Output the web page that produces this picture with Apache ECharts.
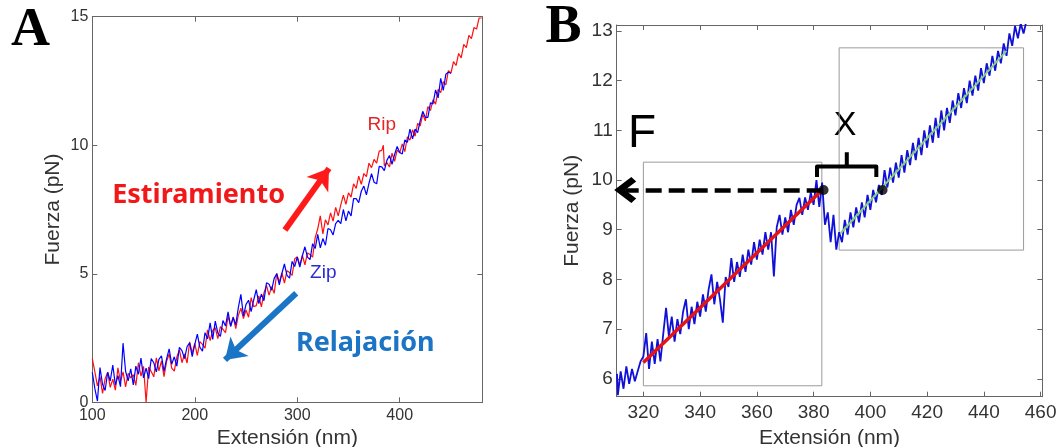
<!DOCTYPE html>
<html><head><meta charset="utf-8">
<script src="https://cdn.jsdelivr.net/npm/echarts@6/dist/echarts.min.js"></script>
<style>html,body{margin:0;padding:0;background:#fff}#c{width:1060px;height:447px}</style>
</head><body><div id="c"></div>
<script>
// ---------- Panel A data ----------
const aXTicks = [100, 200, 300, 400];
const aYTicks = [0, 5, 10, 15];
const aStretch = [ // red, Estiramiento
[100,1.7],[102.5,1.18],[105,0.64],[107.5,1.0],[110,0.35],[112.5,0.91],[115,1.17],[117.5,0.58],[120,0.9],[122.5,0.47],
[125,1.34],[127.5,0.81],[130,1.18],[132.5,0.6],[135,1.13],[137.5,0.95],[140,1.08],[142.5,0.66],[145,1.54],[147.5,1.02],
[150,1.4],[152.5,0.0],[155,1.37],[157.5,1.2],[160,0.99],[162.5,1.73],[165,1.22],[167.5,1.61],[170,1.0],[172.5,1.59],
[175,1.88],[177.5,1.33],[180,1.21],[182.5,1.76],[185,2.04],[187.5,1.54],[190,1.88],[192.5,1.53],[195,2.35],[197.5,1.91],
[200,2.29],[202.5,1.82],[205,2.36],[207.5,2.25],[210,2.11],[212.5,2.82],[215,2.4],[217.5,2.8],[220,2.9],[222.5,2.48],
[225,2.94],[227.5,2.84],[230,2.71],[232.5,3.34],[235,2.97],[237.5,3.32],[240,2.87],[242.5,3.38],[245,3.66],[247.5,3.26],
[250,3.59],[252.5,3.31],[255,4.07],[257.5,3.72],[260,3.76],[262.5,4.14],[265,3.71],[267.5,4.25],[270,4.55],[272.5,4.17],
[275,4.5],[277.5,4.24],[280,5.02],[282.5,4.67],[285,5.03],[287.5,4.64],[290,5.12],[292.5,5.05],[295,4.94],[297.5,5.58],
[300,5.66],[302.5,5.34],[305,5.71],[307.5,5.35],[310,5.81],[312.5,5.75],[315,5.65],[317.5,6.4],[320,6.75],[322.5,7.25],
[325,6.55],[327.5,7.1],[330,6.9],[332.5,7.37],[335,7.05],[337.5,7.58],[340,7.25],[342.5,7.68],[345,8.06],[347.5,7.7],
[350,8.15],[352.5,7.98],[355,8.5],[357.5,8.32],[360,8.8],[362.5,8.48],[365,8.9],[367.5,8.78],[370,9.3],[372.5,9.13],
[375,9.45],[377.5,9.3],[380,9.77],[382.5,9.8],[384,10.0],[385,9.2],[387.5,9.33],[390,9.15],[392.5,9.69],[395,9.37],
[397.5,9.81],[400,9.7],[402.5,10.05],[405,9.75],[407.5,10.33],[410,10.2],[412.5,10.6],[415,10.35],[417.5,10.85],[420,10.75],
[422.5,11.2],[425,10.95],[427.5,11.5],[430,11.35],[432.5,11.77],[435,11.6],[437.5,12.17],[440,12.05],[442.5,12.47],[445,12.35],
[447.5,12.9],[450,12.8],[452.5,13.25],[455,13.1],[457.5,13.57],[460,13.4],[462.5,13.92],[465,13.8],[467.5,14.27],[470,14.15],
[472.5,14.58],[475,14.52],[477.5,14.95],[480,14.95]
];
const aRelax = [ // blue, Relajación
[100,1.17],[102.5,0.53],[105,0.05],[107.5,1.35],[110,0.7],[112.5,0.46],[115,1.17],[117.5,0.83],[120,1.45],[122.5,0.67],
[125,1.04],[127.5,0.61],[130,2.3],[132.5,1.2],[135,0.83],[137.5,1.3],[140,0.68],[142.5,1.41],[145,1.09],[147.5,1.72],
[150,0.95],[152.5,1.33],[155,0.92],[157.5,1.7],[160,1.54],[162.5,1.18],[165,1.67],[167.5,1.81],[170,1.2],[172.5,1.69],
[175,2.08],[177.5,1.48],[180,1.77],[182.5,1.41],[185,2.14],[187.5,2.01],[190,1.7],[192.5,2.17],[195,2.31],[197.5,1.78],
[200,2.25],[202.5,2.65],[205,2.14],[207.5,1.99],[210,2.71],[212.5,2.47],[215,3.09],[217.5,2.45],[220,3.16],[222.5,2.7],
[225,2.56],[227.5,3.18],[230,2.97],[232.5,3.52],[235,2.95],[237.5,3.3],[240,3.01],[242.5,3.68],[245,4.2],[247.5,3.36],
[250,3.81],[252.5,3.97],[255,3.53],[257.5,3.98],[260,4.38],[262.5,3.84],[265,4.21],[267.5,3.95],[270,4.65],[272.5,4.59],
[275,4.36],[277.5,4.82],[280,5.0],[282.5,4.57],[285,5.01],[287.5,5.38],[290,4.94],[292.5,4.83],[295,5.48],[297.5,5.28],
[300,5.65],[302.5,5.26],[305,5.7],[307.5,6.05],[310,5.65],[312.5,5.55],[315,6.17],[317.5,5.98],[320,6.53],[322.5,6.01],
[325,6.37],[327.5,6.11],[330,6.76],[332.5,6.71],[335,6.51],[337.5,6.95],[340,7.08],[342.5,6.95],[345,7.5],[347.5,7.06],
[350,7.44],[352.5,7.25],[355,7.92],[357.5,7.92],[360,7.77],[362.5,8.21],[365,8.41],[367.5,8.07],[370,8.52],[372.5,8.89],
[375,8.56],[377.5,8.5],[380,9.18],[382.5,9.16],[385,9.01],[387.5,9.41],[390,9.6],[392.5,9.26],[395,9.64],[397.5,9.95],
[400,9.72],[402.5,9.66],[405,10.21],[407.5,10.11],[410,10.63],[412.5,10.25],[415,10.63],[417.5,10.49],[420,10.96],[422.5,11.32],
[425,11.08],[427.5,11.08],[430,11.65],[432.5,11.61],[435,12.15],[437.5,11.84],[440,12.6],[442.5,12.13],[445,12.76],[447.5,12.84],
[450,12.8]
];
// arrows in panel A: [start, end] in data units
const aStretchArrow = [[288, 6.7], [331, 9.1]];
const aRelaxArrow = [[299, 4.24], [229.5, 1.65]];

// ---------- Panel B data ----------
const bXTicks = [320, 340, 360, 380, 400, 420, 440, 460];
const bYTicks = [6, 7, 8, 9, 10, 11, 12, 13];
const bTrace = [
[310.7,6.1],[311,5.67],[312,6.15],[313,5.8],[314,6.25],[315,5.9],[316,6.2],[317,5.95],[318,6.15],[319,6.35],
[320,6.45],[321,6.92],[322,6.2],[323,6.75],[324,6.3],[325,6.8],[326,6.35],[327,6.9],[328,7.43],[329,6.85],
[330,7.25],[331,6.75],[332,7.2],[333,6.9],[334,7.35],[335,7.6],[336,7.0],[337,7.45],[338,7.1],[339,7.55],
[340,7.25],[341,7.7],[342,7.35],[343,7.8],[344,8.1],[345,7.5],[346,7.95],[347,7.6],[348,7.13],[349,8.05],
[350,7.85],[351,8.43],[352,7.95],[353,8.35],[354,8.05],[355,8.5],[356,8.15],[357,8.6],[358,8.3],[359,8.75],
[360,8.4],[361,8.8],[362,8.5],[363,8.95],[364,8.6],[365,8.95],[366,8.06],[367,9.05],[368,9.3],[369,8.9],
[370,9.25],[371,8.95],[372,9.4],[373,9.1],[374,9.5],[375,9.64],[376,9.3],[377,9.65],[378,9.4],[379,9.75],
[380,9.5],[381,10.0],[382,9.46],[383,9.95],[384,9.1],[385,9.35],[386,8.75],[387,9.3],[388,8.6],[389,8.95],
[390,8.75],[391,9.2],[392,8.9],[393,9.35],[394,9.05],[395,9.45],[396,9.15],[397,9.55],[398,9.25],[399,9.7],
[400,9.4],[401,9.8],[402,9.55],[403,9.9],[404,9.7],[405,10.2],[406,9.85],[407,10.25],[408,9.95],[409,10.35],
[410,10.05],[411,10.5],[412,10.15],[413,10.6],[414,10.3],[415,10.75],[416,10.4],[417,10.85],[418,10.5],[419,11.0],
[420,10.65],[421,11.1],[422,10.75],[423,11.25],[424,10.85],[425,11.4],[426,11.0],[427,11.45],[428,11.15],[429,11.6],
[430,11.3],[431,11.75],[432,11.45],[433,11.85],[434,11.55],[435,12.0],[436,11.7],[437,12.1],[438,11.8],[439,12.25],
[440,11.95],[441,12.35],[442,12.1],[443,12.5],[444,12.2],[445,12.6],[446,12.35],[447,12.75],[448,12.5],[449,12.95],
[450,12.7],[451,13.1],[452,12.85],[453,13.15],[454,12.95],[455,13.2]
];
const bFitBefore = [[320, 6.33], [383, 9.8]];
const bFitAfter = [[389.5, 8.93], [448, 12.6]];
const bBoxBefore = [[320, 5.86], [382.9, 10.36]];
const bBoxAfter = [[389, 8.59], [454, 12.66]];
const bRipPoints = [[383.5, 9.8], [404.3, 9.8]];
const bForceArrow = [[383.2, 9.8], [313.6, 9.8]];
const bBrace = [[381.2, 10.06], [381.2, 10.27], [402.1, 10.27], [402.1, 10.06]];
const bBraceTip = [[391.7, 10.27], [391.7, 10.56]];

// ---------- chart ----------
const AX = '#666';
const TXT = '#333';
function mkAxis(grid, pos, min, max, ticks, show, fs, margin, name, gap) {
  return {
    type: 'value', gridIndex: grid, position: pos, min: min, max: max,
    axisLine: { show: true, onZero: false, lineStyle: { color: AX, width: 1 } },
    axisTick: { show: true, inside: true, length: 5, customValues: ticks, lineStyle: { color: AX } },
    axisLabel: { show: show, customValues: ticks, fontSize: fs, color: TXT, fontFamily: 'Liberation Sans', margin: margin },
    splitLine: { show: false },
    name: show ? name : '', nameLocation: 'middle', nameGap: gap,
    nameTextStyle: { fontSize: 21, color: TXT, fontFamily: 'Liberation Sans' }
  };
}
const chart = echarts.init(document.getElementById('c'), null, { renderer: 'canvas' });
const lineBase = { type: 'line', showSymbol: false, symbol: 'none', animation: false, silent: true };
chart.setOption({
  animation: false,
  backgroundColor: '#fff',
  grid: [
    { left: 92.3, top: 16.7, width: 390, height: 385.6, containLabel: false, outerBoundsMode: 'none' },
    { left: 616.7, top: 25, width: 425.6, height: 371.7, containLabel: false, outerBoundsMode: 'none' }
  ],
  xAxis: [
    mkAxis(0, 'bottom', 100, 480.6, aXTicks, true, 16, 5, 'Extensión (nm)', 16),
    mkAxis(0, 'top', 100, 480.6, aXTicks, false, 16, 0, '', 0),
    mkAxis(1, 'bottom', 310.6, 460.6, bXTicks, true, 19, 7, 'Extensión (nm)', 23),
    mkAxis(1, 'top', 310.6, 460.6, bXTicks, false, 19, 0, '', 0)
  ],
  yAxis: [
    mkAxis(0, 'left', 0, 15, aYTicks, true, 16, 4, 'Fuerza (pN)', 29),
    mkAxis(0, 'right', 0, 15, aYTicks, false, 16, 0, '', 0),
    mkAxis(1, 'left', 5.64, 13.12, bYTicks, true, 19, 4, 'Fuerza (pN)', 34),
    mkAxis(1, 'right', 5.64, 13.12, bYTicks, false, 19, 0, '', 0)
  ],
  series: [
    Object.assign({}, lineBase, { name: 'Estiramiento', xAxisIndex: 0, yAxisIndex: 0, data: aStretch,
      lineStyle: { color: '#ff1010', width: 1.2 }, z: 2,
      markLine: { silent: true, animation: false, label: { show: false },
        symbol: ['none', 'arrow'], symbolSize: 20,
        data: [
          [{ coord: aStretchArrow[0], lineStyle: { color: '#ff1a1a', width: 6, type: 'solid' } },
           { coord: aStretchArrow[1] }],
          [{ coord: aRelaxArrow[0], lineStyle: { color: '#1b75c6', width: 6, type: 'solid' } },
           { coord: aRelaxArrow[1] }]
        ] } }),
    Object.assign({}, lineBase, { name: 'Relajación', xAxisIndex: 0, yAxisIndex: 0, data: aRelax,
      lineStyle: { color: '#0000ff', width: 1.2 }, z: 3 }),
    Object.assign({}, lineBase, { name: 'traza', xAxisIndex: 2, yAxisIndex: 2, data: bTrace,
      lineStyle: { color: '#1010d8', width: 1.8 }, z: 2,
      markArea: { silent: true, itemStyle: { color: 'rgba(0,0,0,0)', borderColor: '#9a9a9a', borderWidth: 1 },
        data: [
          [{ coord: bBoxBefore[0] }, { coord: bBoxBefore[1] }],
          [{ coord: bBoxAfter[0] }, { coord: bBoxAfter[1] }]
        ] } }),
    Object.assign({}, lineBase, { name: 'ajuste1', xAxisIndex: 2, yAxisIndex: 2, data: bFitBefore,
      lineStyle: { color: '#e41414', width: 3.5 }, z: 4 }),
    Object.assign({}, lineBase, { name: 'ajuste2', xAxisIndex: 2, yAxisIndex: 2, data: bFitAfter,
      lineStyle: { color: '#86cf86', width: 2 }, z: 4 }),
    Object.assign({}, lineBase, { name: 'llave', xAxisIndex: 2, yAxisIndex: 2, data: bBrace,
      lineStyle: { color: '#000', width: 4, join: 'round' }, z: 5 }),
    Object.assign({}, lineBase, { name: 'llave2', xAxisIndex: 2, yAxisIndex: 2, data: bBraceTip,
      lineStyle: { color: '#000', width: 4 }, z: 5,
      markLine: { silent: true, animation: false, label: { show: false },
        symbol: ['none', 'path://M5,0 L10,7 L8.3,9 L5,4.4 L1.7,9 L0,7 Z'], symbolSize: [26, 22],
        lineStyle: { color: '#000', width: 4.5, type: [16, 7] },
        data: [[{ coord: bForceArrow[0] }, { coord: bForceArrow[1] }]] } }),
    { type: 'scatter', xAxisIndex: 2, yAxisIndex: 2, data: bRipPoints, symbolSize: 10,
      itemStyle: { color: '#000' }, z: 6, silent: true, animation: false }
  ],
  graphic: [
    { type: 'text', x: 30.5, y: 31, style: { text: 'A', font: 'bold 54px "Liberation Serif"', fill: '#000', align: 'center', verticalAlign: 'middle' } },
    { type: 'text', x: 563.5, y: 28, style: { text: 'B', font: 'bold 54px "Liberation Serif"', fill: '#000', align: 'center', verticalAlign: 'middle' } },
    { type: 'text', x: 198.6, y: 195, style: { text: 'Estiramiento', font: 'bold 27px "Noto Sans"', fill: '#f01818', align: 'center', verticalAlign: 'middle' } },
    { type: 'text', x: 365.3, y: 343, style: { text: 'Relajación', font: 'bold 27px "Noto Sans"', fill: '#1b74c4', align: 'center', verticalAlign: 'middle' } },
    { type: 'text', x: 381.7, y: 125, style: { text: 'Rip', font: '19px "Liberation Sans"', fill: '#e52626', align: 'center', verticalAlign: 'middle' } },
    { type: 'text', x: 323.3, y: 273, style: { text: 'Zip', font: '19px "Liberation Sans"', fill: '#2b2bd4', align: 'center', verticalAlign: 'middle' } },
    { type: 'text', x: 642, y: 134, style: { text: 'F', font: '46px "Liberation Sans"', fill: '#000', align: 'center', verticalAlign: 'middle' } },
    { type: 'text', x: 845, y: 126, style: { text: 'X', font: '34px "Liberation Sans"', fill: '#000', align: 'center', verticalAlign: 'middle' } }
  ]
});
</script>
</body></html>
